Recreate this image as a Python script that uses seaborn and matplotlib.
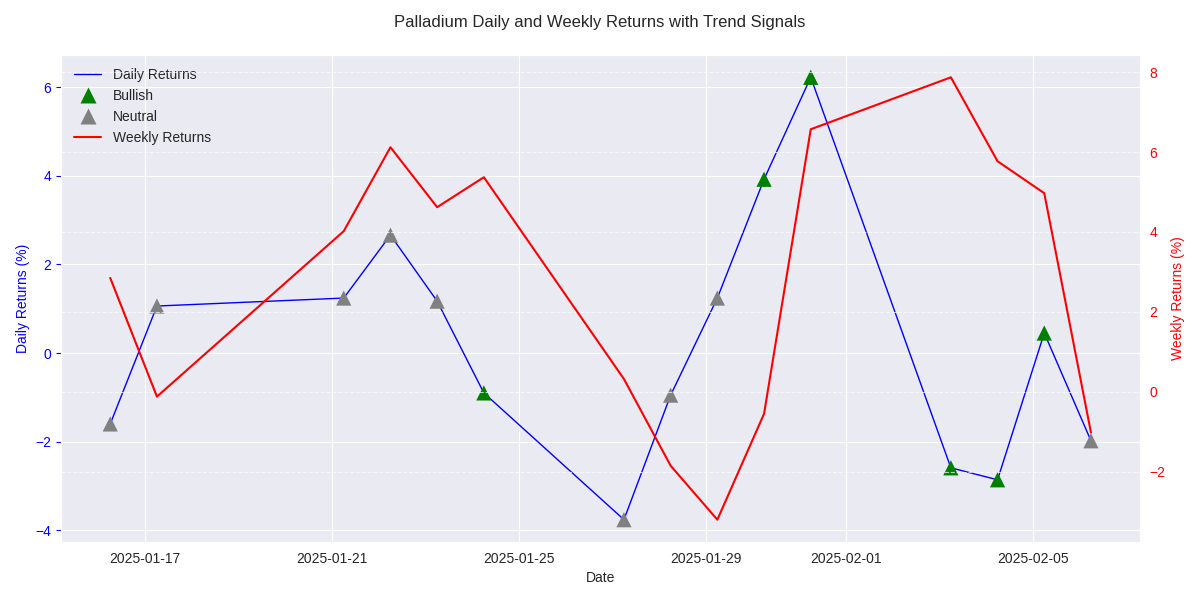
import matplotlib
matplotlib.use("Agg")
import matplotlib.pyplot as plt
import seaborn as sns
import pandas as pd

dates = ["2025-01-16", "2025-01-17", "2025-01-21", "2025-01-22", "2025-01-23",
         "2025-01-24", "2025-01-27", "2025-01-28", "2025-01-29", "2025-01-30",
         "2025-01-31", "2025-02-03", "2025-02-04", "2025-02-05", "2025-02-06"]
daily_returns = [-1.60, 1.06, 1.24, 2.66, 1.17, -0.90, -3.76, -0.95, 1.24, 3.92,
                 6.22, -2.59, -2.86, 0.45, -1.98]
weekly_returns = [2.85, -0.12, 4.02, 6.12, 4.62, 5.37, 0.32, -1.85, -3.20, -0.55,
                  6.57, 7.87, 5.77, 4.97, -1.02]
signals = ["Neutral", "Neutral", "Neutral", "Neutral", "Neutral", "Bullish",
           "Neutral", "Neutral", "Neutral", "Bullish", "Bullish", "Bullish",
           "Bullish", "Bullish", "Neutral"]

df = pd.DataFrame({
    "Date": pd.to_datetime(dates) + pd.Timedelta(hours=6),
    "Daily": daily_returns,
    "Weekly": weekly_returns,
    "Signal": signals,
})

sns.set_style("darkgrid")
plt.rcParams["font.family"] = ["Liberation Sans", "DejaVu Sans"]

fig, ax1 = plt.subplots(figsize=(12, 6), dpi=100)

sns.lineplot(data=df, x="Date", y="Daily", ax=ax1, color="blue", linewidth=1,
             label="Daily Returns")
sns.scatterplot(data=df, x="Date", y="Daily", hue="Signal",
                hue_order=["Bullish", "Neutral"],
                palette={"Bullish": "green", "Neutral": "gray"},
                marker="^", s=120, ax=ax1, edgecolor="none", zorder=3)
ax1.set_xlabel("Date")
ax1.set_ylabel("Daily Returns (%)", color="blue")
ax1.tick_params(axis="y", colors="blue")

ax2 = ax1.twinx()
sns.lineplot(data=df, x="Date", y="Weekly", ax=ax2, color="red", linewidth=1.5,
             label="Weekly Returns")
ax2.set_ylabel("Weekly Returns (%)", color="red")
ax2.tick_params(axis="y", colors="red", width=0, length=3.5)
ax2.grid(True, linestyle="--", color="white", alpha=0.7)

h1, l1 = ax1.get_legend_handles_labels()
h2, l2 = ax2.get_legend_handles_labels()
ax2.get_legend().remove()
ax1.legend(h1 + h2, l1 + l2, loc="upper left", frameon=False)

fig.suptitle("Palladium Daily and Weekly Returns with Trend Signals", fontsize=12, y=0.975)
fig.subplots_adjust(left=0.051, right=0.95, top=0.908, bottom=0.097)
fig.savefig("out.png", dpi=100)
